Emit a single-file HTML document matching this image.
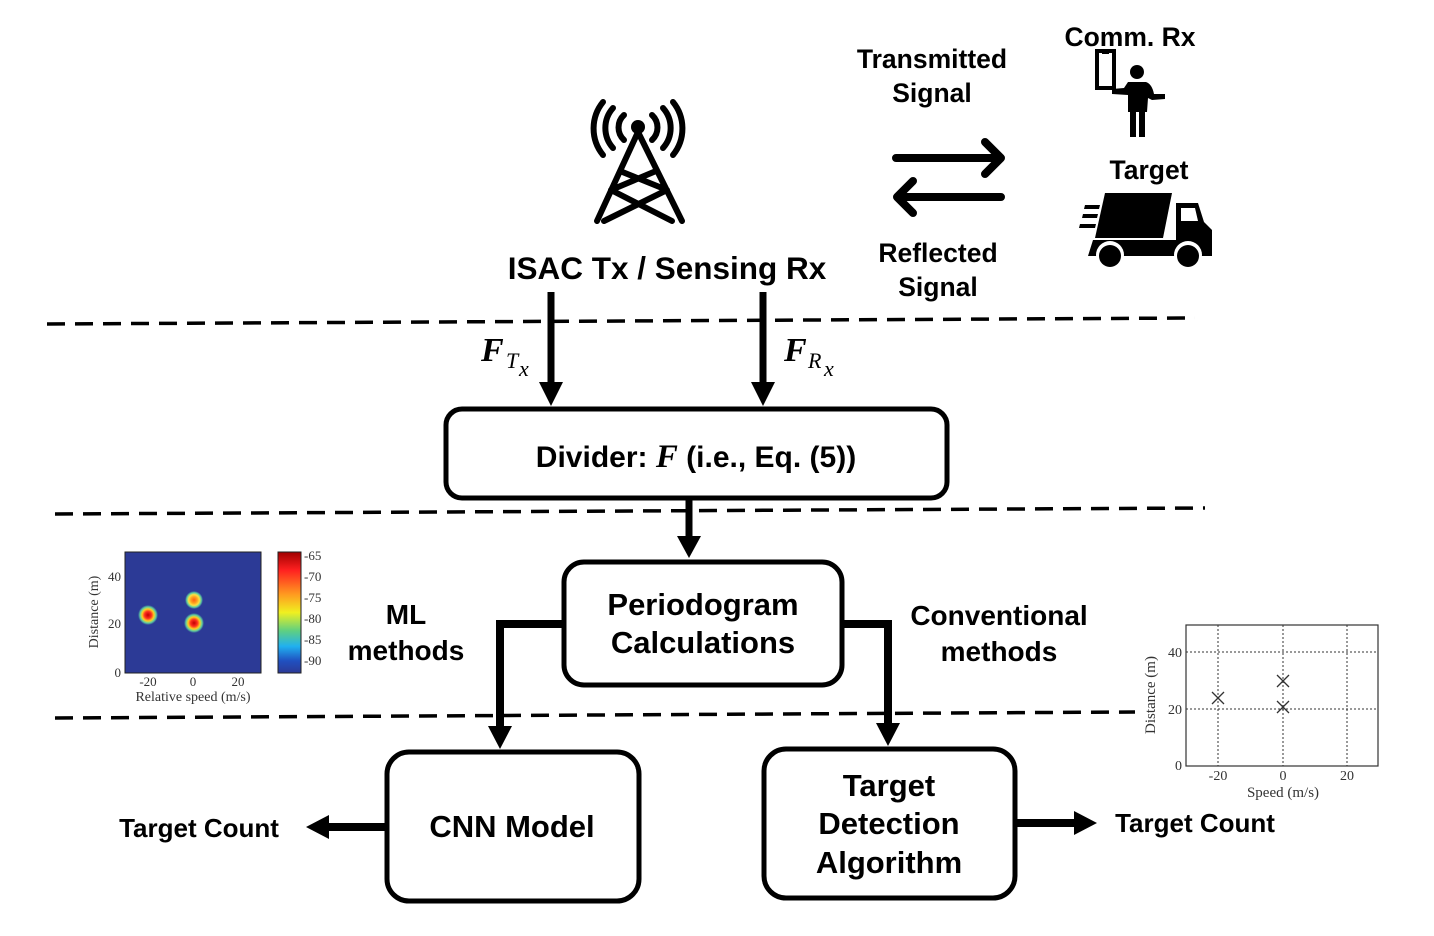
<!DOCTYPE html>
<html><head><meta charset="utf-8"><style>
html,body{margin:0;padding:0;background:#fff;}
svg{display:block;}
text{font-family:"Liberation Sans",Arial,sans-serif;font-weight:bold;fill:#000;}
.m text{font-family:"Liberation Serif",serif;font-weight:normal;fill:#333;}
text.it{font-family:"Liberation Serif",serif;font-style:italic;}
text.sub{font-family:"Liberation Serif",serif;font-style:italic;font-weight:normal;}
</style></head><body>
<svg width="1434" height="936" viewBox="0 0 1434 936" xmlns="http://www.w3.org/2000/svg">
<defs>
<radialGradient id="blob"><stop offset="0" stop-color="#c00000"/><stop offset="0.35" stop-color="#ff3020"/><stop offset="0.6" stop-color="#ffd020"/><stop offset="0.8" stop-color="#60d0a0"/><stop offset="1" stop-color="#2c3a96"/></radialGradient>
<radialGradient id="blob2"><stop offset="0" stop-color="#ff6010"/><stop offset="0.35" stop-color="#ffa020"/><stop offset="0.6" stop-color="#ffe040"/><stop offset="0.8" stop-color="#60d0a0"/><stop offset="1" stop-color="#2c3a96"/></radialGradient>
<linearGradient id="cb" x1="0" y1="0" x2="0" y2="1"><stop offset="0" stop-color="#a00000"/><stop offset="0.15" stop-color="#ff2020"/><stop offset="0.35" stop-color="#ff9a20"/><stop offset="0.5" stop-color="#f0f020"/><stop offset="0.65" stop-color="#60d080"/><stop offset="0.78" stop-color="#20b0f0"/><stop offset="0.9" stop-color="#2050c0"/><stop offset="1" stop-color="#2c3a96"/></linearGradient>
</defs>

<!-- tower -->
<g fill="none" stroke="#000" stroke-width="6" stroke-linecap="round" stroke-linejoin="round">
<path d="M638 132 L597 221 M638 132 L682 221 M620 171 L667 190 M656 171 L611 190 M611 190 L672 221 M667 190 L604 221"/>
<path d="M624 115 A17 17 0 0 0 624 140 M652 115 A17 17 0 0 1 652 140"/>
<path d="M613 108 A30 30 0 0 0 613 148 M663 108 A30 30 0 0 1 663 148"/>
<path d="M603 102 A42 42 0 0 0 603 155 M673 102 A42 42 0 0 1 673 155"/>
</g>
<circle cx="638" cy="127" r="7"/>
<text x="667" y="279" font-size="31.5" text-anchor="middle">ISAC Tx / Sensing Rx</text>

<!-- signals -->
<text x="932" y="68" font-size="26.5" text-anchor="middle">Transmitted</text>
<text x="932" y="102" font-size="26.5" text-anchor="middle">Signal</text>
<text x="938" y="262" font-size="26.5" text-anchor="middle">Reflected</text>
<text x="938" y="296" font-size="26.5" text-anchor="middle">Signal</text>
<g fill="none" stroke="#000" stroke-width="8" stroke-linecap="round" stroke-linejoin="round">
<path d="M896 158 L1000 158 M985 142 L1001 158 L985 174"/>
<path d="M898 197 L1001 197 M913 181 L897 197 L913 213"/>
</g>

<!-- comm rx -->
<text x="1130" y="46" font-size="26.5" text-anchor="middle">Comm. Rx</text>
<rect x="1097" y="51" width="17" height="37" fill="none" stroke="#000" stroke-width="4"/>
<rect x="1102" y="52" width="7" height="2"/>
<circle cx="1137" cy="72" r="7"/>
<path d="M1128 82 L1146 82 Q1152 84 1154 94 L1165 94 L1165 99 L1152 100 L1148 98 L1147 112 L1145 112 L1145 137 L1139 137 L1139 112 L1136 112 L1136 137 L1130 137 L1130 112 L1128 112 L1128 95 L1112 94 L1112 89 L1124 88 Z"/>

<!-- target truck -->
<text x="1149" y="179" font-size="26.5" text-anchor="middle">Target</text>
<path d="M1105 193 L1172 193 L1163 238 L1095 238 Z"/>
<path d="M1085 205 L1100 205 L1099 209 L1084 209 Z M1083 214 L1098 214 L1097 218 L1082 218 Z M1080 224 L1096 224 L1095 228 L1079 228 Z"/>
<path d="M1176 203 L1198 203 L1204 222 L1212 230 L1212 256 L1176 256 Z"/>
<path d="M1181 208 L1195 208 L1198 221 L1181 221 Z" fill="#fff"/>
<path d="M1093 240 L1176 240 L1176 256 L1088 256 Z"/>
<circle cx="1110" cy="255" r="14" fill="#fff"/><circle cx="1110" cy="256" r="11"/>
<circle cx="1188" cy="255" r="14" fill="#fff"/><circle cx="1188" cy="256" r="11"/>

<!-- dashed lines -->
<g stroke="#000" stroke-width="3.5" stroke-dasharray="18 10" fill="none">
<path d="M47 324 L1195 318"/>
<path d="M55 514 L1205 508"/>
<path d="M55 718 L1135 712"/>
</g>

<!-- F arrows -->
<g stroke="#000" stroke-width="7"><path d="M551 292 L551 385 M763 292 L763 385"/></g>
<path d="M539 382 L563 382 L551 406 Z M751 382 L775 382 L763 406 Z"/>
<text class="it" x="481" y="361" font-size="34">F</text>
<text class="sub" x="506" y="368" font-size="22">T</text>
<text class="sub" x="519" y="376" font-size="22">x</text>
<text class="it" x="784" y="361" font-size="34">F</text>
<text class="sub" x="808" y="368" font-size="22">R</text>
<text class="sub" x="824" y="376" font-size="22">x</text>

<!-- divider -->
<rect x="446" y="409" width="501" height="89" rx="16" fill="#fff" stroke="#000" stroke-width="5"/>
<text x="696" y="467" font-size="30" text-anchor="middle">Divider: <tspan style="font-family:'Liberation Serif',serif;font-style:italic" font-size="33">F</tspan> (i.e., Eq. (5))</text>

<path d="M689 499 L689 538" stroke="#000" stroke-width="7"/>
<path d="M677 536 L701 536 L689 558 Z"/>

<!-- periodogram -->
<rect x="564" y="562" width="278" height="123" rx="20" fill="#fff" stroke="#000" stroke-width="5"/>
<text x="703" y="615" font-size="31" text-anchor="middle">Periodogram</text>
<text x="703" y="653" font-size="31" text-anchor="middle">Calculations</text>

<!-- branches -->
<path d="M563 624 L500 624 L500 728" fill="none" stroke="#000" stroke-width="8"/>
<path d="M488 726 L512 726 L500 749 Z"/>
<path d="M843 624 L888 624 L888 725" fill="none" stroke="#000" stroke-width="8"/>
<path d="M876 723 L900 723 L888 746 Z"/>
<text x="406" y="624" font-size="28" text-anchor="middle">ML</text>
<text x="406" y="660" font-size="28" text-anchor="middle">methods</text>
<text x="999" y="625" font-size="28" text-anchor="middle">Conventional</text>
<text x="999" y="661" font-size="28" text-anchor="middle">methods</text>

<!-- CNN -->
<rect x="387" y="752" width="252" height="149" rx="22" fill="#fff" stroke="#000" stroke-width="5"/>
<text x="512" y="837" font-size="31" text-anchor="middle">CNN Model</text>
<path d="M386 827 L325 827" stroke="#000" stroke-width="8"/>
<path d="M329 815 L329 839 L306 827 Z"/>
<text x="199" y="837" font-size="26" text-anchor="middle">Target Count</text>

<!-- TDA -->
<rect x="764" y="749" width="251" height="149" rx="22" fill="#fff" stroke="#000" stroke-width="5"/>
<text x="889" y="796" font-size="31" text-anchor="middle">Target</text>
<text x="889" y="834" font-size="31" text-anchor="middle">Detection</text>
<text x="889" y="873" font-size="31" text-anchor="middle">Algorithm</text>
<path d="M1016 823 L1077 823" stroke="#000" stroke-width="8"/>
<path d="M1074 811 L1074 835 L1097 823 Z"/>
<text x="1195" y="832" font-size="26" text-anchor="middle">Target Count</text>

<!-- heatmap -->
<rect x="125" y="552" width="136" height="121" fill="#2c3a96" stroke="#222" stroke-width="1"/>
<circle cx="148" cy="615" r="10" fill="url(#blob)"/>
<circle cx="194" cy="600" r="9" fill="url(#blob2)"/>
<circle cx="194" cy="623" r="10" fill="url(#blob)"/>
<rect x="278" y="552" width="23" height="121" fill="url(#cb)" stroke="#222" stroke-width="1"/>
<g class="m" font-size="13">
<text x="304" y="560">-65</text><text x="304" y="581">-70</text><text x="304" y="602">-75</text><text x="304" y="623">-80</text><text x="304" y="644">-85</text><text x="304" y="665">-90</text>
<text x="121" y="581" text-anchor="end">40</text><text x="121" y="628" text-anchor="end">20</text><text x="121" y="677" text-anchor="end">0</text>
<text x="148" y="686" text-anchor="middle">-20</text><text x="193" y="686" text-anchor="middle">0</text><text x="238" y="686" text-anchor="middle">20</text>
<text x="193" y="701" text-anchor="middle" font-size="14">Relative speed (m/s)</text>
<text transform="translate(98 612) rotate(-90)" text-anchor="middle" font-size="14">Distance (m)</text>
</g>

<!-- scatter plot -->
<rect x="1186" y="625" width="192" height="141" fill="none" stroke="#333" stroke-width="1.2"/>
<g stroke="#333" stroke-width="1" stroke-dasharray="2 2">
<path d="M1218 625 V766 M1283 625 V766 M1347 625 V766 M1186 652 H1378 M1186 709 H1378"/>
</g>
<g stroke="#333" stroke-width="1.3">
<path d="M1212 692 L1224 704 M1224 692 L1212 704"/>
<path d="M1277 675 L1289 687 M1289 675 L1277 687"/>
<path d="M1277 701 L1289 713 M1289 701 L1277 713"/>
</g>
<g class="m" font-size="14">
<text x="1182" y="657" text-anchor="end">40</text><text x="1182" y="714" text-anchor="end">20</text><text x="1182" y="770" text-anchor="end">0</text>
<text x="1218" y="780" text-anchor="middle">-20</text><text x="1283" y="780" text-anchor="middle">0</text><text x="1347" y="780" text-anchor="middle">20</text>
<text x="1283" y="797" text-anchor="middle" font-size="15">Speed (m/s)</text>
<text transform="translate(1155 695) rotate(-90)" text-anchor="middle" font-size="15">Distance (m)</text>
</g>
</svg>
</body></html>
